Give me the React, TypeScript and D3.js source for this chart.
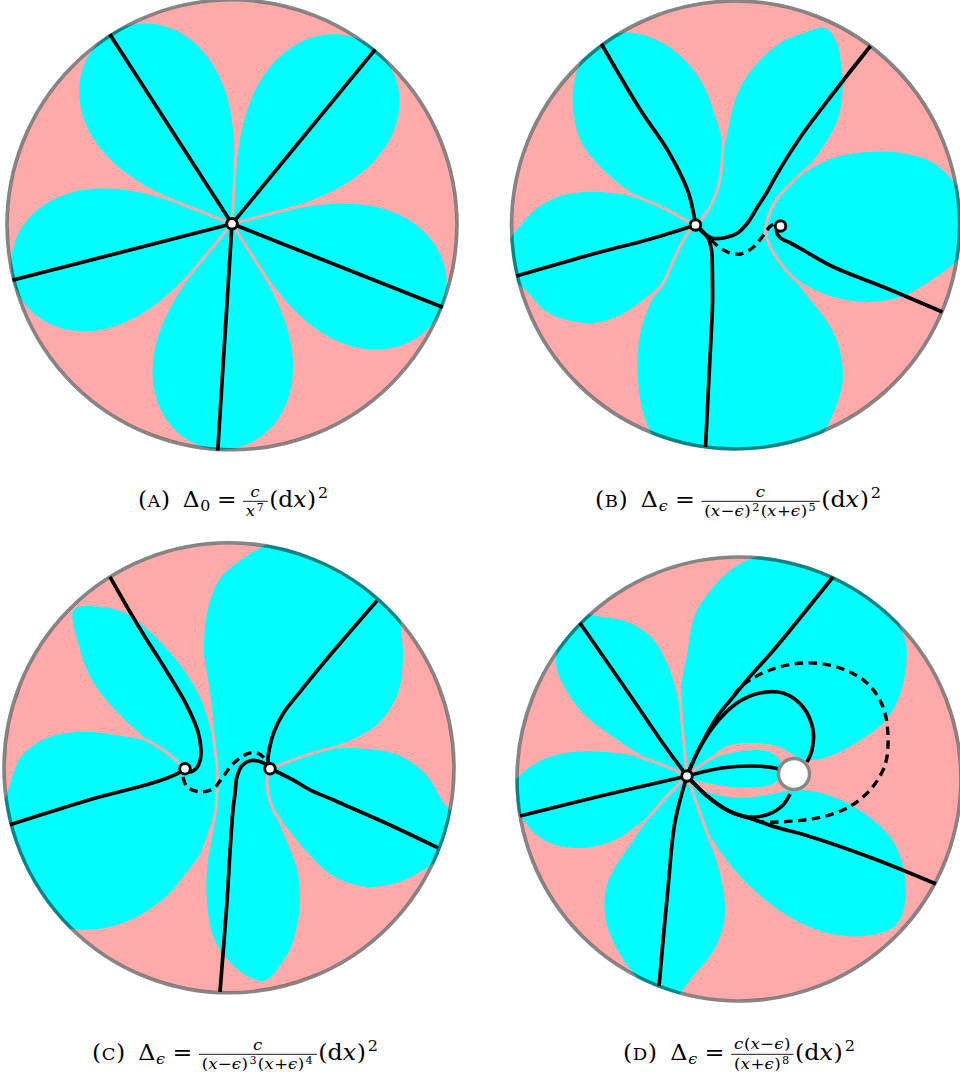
import React from "react";
import * as d3 from "d3";

type Pt = [number, number];

const PINK = "#ffaaaa";
const CYAN = "#00ffff";
const RING = "rgba(0,0,0,0.48)";
const EPS = "\u03F5";

/* ---------------- layout (pixels) ---------------- */
const LAYOUT = {
  cx: [232, 735.5, 229, 739],
  cy: [224.8, 225, 767.8, 779],
  r: [225, 224, 225, 222],
  capCx: [234, 739, 236, 740],
  capBase: [507, 507, 1060, 1060],
  capWidth: [192, 288, 288, 234],
};

/* ---------------- data (disk units, origin = disk centre) ---------------- */
// Panel A: five critical directions of c/x^7 (degrees, screen orientation)
const A_DIRECTIONS = [-122.8, -50.6, 21.6, 93.6, 165.6];
const A_PETAL_REACH = 226;
const A_POLES: Pt[] = [[0, -1]];

// Panel B
const B_POLES: Pt[] = [[-40, 0], [45, 1]];
const B_PETAL_LEFT: Pt[] = [[-40,0],[-52,-6],[-68,-15],[-95,-27],[-125,-32],[-150,-33],[-175,-29],[-198,-17],[-213,-2],[-228,20],[-225,50],[-208,67],[-190,86],[-168,95],[-142,98],[-115,90],[-90,73],[-74,58],[-62,35],[-52,15],[-47,7],[-40,0]];
const B_PETAL_UPLEFT: Pt[] = [[-40,0],[-52,-6],[-68,-15],[-95,-27],[-112,-38],[-135,-58],[-155,-85],[-163,-125],[-157,-158],[-142,-182],[-115,-192],[-92,-190],[-62,-175],[-35,-145],[-19,-105],[-13,-80],[-15,-48],[-22,-25],[-33,-7],[-40,0]];
const B_PETAL_MIDDLE: Pt[] = [[-40,0],[-33,-7],[-22,-25],[-15,-48],[-13,-72],[-8,-92],[-4,-112],[5,-138],[22,-162],[45,-182],[68,-192],[90,-197],[101,-183],[106,-158],[107,-132],[102,-105],[90,-82],[72,-57],[55,-41],[40,-24],[32,-6],[30,7],[35,22],[45,38],[55,50],[76,76],[95,102],[105,128],[107,158],[99,185],[86,210],[50,240],[-40,240],[-80,214],[-93,185],[-98,142],[-95,108],[-84,76],[-72,58],[-62,35],[-52,15],[-47,7],[-40,0]];
const B_PETAL_RIGHT: Pt[] = [[32,-6],[40,-24],[55,-41],[75,-56],[98,-67],[132,-73],[165,-72],[198,-62],[222,-38],[236,0],[224,32],[196,55],[165,72],[132,77],[98,72],[70,60],[55,50],[45,38],[35,22],[30,7]];
const B_GAPS: Pt[][] = [
  [[-40,0],[-33,-7],[-22,-25],[-15,-48],[-13,-72],[-12,-86]],
  [[-40,0],[-52,-6],[-68,-15],[-95,-27],[-110,-32]],
  [[-40,0],[-47,7],[-52,15],[-62,35],[-72,58],[-80,68]],
  [[80,-63],[72,-57],[55,-41],[40,-24],[32,-6],[30,7],[35,22],[45,38],[55,50],[63,57]],
];
const B_LINES: Pt[][] = [
  [[-40,0],[-42,-12],[-48,-35],[-68,-75],[-95,-115],[-134,-181]],
  [[-40,0],[-85,14],[-135,27],[-219,51]],
  [[-40,0],[-33,6],[-27,14],[-24,25],[-23,55],[-23,80],[-26,142],[-30,222]],
  [[-40,0],[-33,7],[-24,13],[-12,13],[2,8],[12,-2],[22,-18],[31,-32],[41,-50],[65,-88],[98,-132],[135,-179]],
  [[45,1],[41,6],[45,13],[55,18],[71,27],[98,42],[148,62],[207,87]],
];
const B_DASHED: Pt[][] = [[[-24,15],[-19,20],[-8,27],[5,29],[18,22],[28,10],[34,2],[39,-2]]];

// Panel C
const C_POLES: Pt[] = [[-44, 1], [41, 1]];
const C_PETAL_WEST: Pt[] = [[-44,1],[-49,-4],[-59,-13],[-79,-26],[-92,-37],[-112,-56],[-136,-86],[-150,-122],[-155,-158],[-129,-161],[-102,-154],[-79,-136],[-56,-112],[-39,-89],[-27,-66],[-20,-45],[-15,-25],[-12,0],[-12,20],[-14,41],[-22,68],[-30,88],[-42,104],[-62,128],[-96,151],[-129,161],[-165,160],[-200,145],[-232,70],[-220,20],[-210,-8],[-196,-22],[-176,-32],[-142,-36],[-109,-32],[-90,-29],[-79,-26],[-59,-13],[-49,-4],[-44,1]];
const C_PETAL_EAST: Pt[] = [[41,1],[54,-4],[81,-14],[104,-21],[125,-29],[148,-43],[168,-72],[174,-109],[172,-139],[168,-175],[100,-240],[44,-226],[11,-207],[-9,-189],[-21,-159],[-25,-126],[-24,-99],[-19,-66],[-16,-34],[-12,-1],[-12,20],[-13,41],[-17,68],[-22,101],[-22,134],[-16,168],[-2,191],[18,208],[36,213],[51,198],[64,174],[71,134],[68,101],[58,74],[46,45],[41,33],[38,13],[41,1]];
const C_PETAL_RIGHT: Pt[] = [[41,1],[54,-4],[81,-14],[104,-19],[138,-19],[171,-12],[198,8],[214,34],[240,70],[201,98],[171,114],[138,119],[104,108],[78,84],[58,60],[46,45],[41,33],[38,13],[41,1]];
const C_GAPS: Pt[][] = [
  [[-26,-110],[-22,-86],[-19,-66],[-16,-34],[-12,-1],[-12,20],[-13,41],[-17,62],[-20,78]],
  [[-44,1],[-49,-4],[-59,-13],[-79,-26],[-90,-31]],
  [[41,1],[54,-4],[81,-14],[104,-20]],
  [[41,1],[38,13],[41,33],[46,45],[52,53]],
];
const C_LINES: Pt[][] = [
  [[-119,-191],[-89,-139],[-62,-96],[-42,-62],[-31,-36],[-28,-18],[-29,-7],[-33,1],[-39,4],[-44,1]],
  [[-44,1],[-52,6],[-79,16],[-129,29],[-219,57]],
  [[41,1],[34,-5],[21,-7],[13,-2],[8,9],[6,26],[4,42],[1,84],[-2,134],[-9,224]],
  [[41,1],[39,-8],[41,-22],[45,-36],[54,-54],[71,-76],[104,-116],[148,-167]],
  [[41,1],[52,6],[64,12],[81,22],[104,32],[154,54],[209,80]],
];
const C_DASHED: Pt[][] = [[[-46,9],[-42,19],[-29,24],[-16,21],[-6,9],[4,-4],[18,-14],[28,-15],[36,-9],[41,1]]];

// Panel D
const D_POLES: Pt[] = [[-52, -3]];
const D_ZEROS: Pt[] = [[55, -5]];
const D_PETALS: Pt[][] = [
  // top
  [[-52,-3],[-54,-25],[-57,-55],[-59,-85],[-56,-105],[-52,-124],[-44,-164],[-24,-194],[-1,-214],[33,-225],[99,-205],[145,-178],[166,-140],[167,-112],[160,-82],[146,-58],[120,-38],[94,-24],[74,-19],[60,-21],[50,-27],[38,-33],[14,-36],[-12,-33],[-29,-21],[-40,-13],[-52,-3]],
  // small (towards the zero)
  [[-52,-3],[-40,-12],[-29,-19],[-12,-25],[14,-29],[31,-27],[39,-21],[43,-10],[40,0],[34,5],[21,8],[-6,8],[-32,4],[-44,1],[-52,-3]],
  // lower right
  [[-52,-3],[-44,7],[-29,14],[-10,18],[8,19],[38,14],[54,11],[78,13],[104,22],[132,39],[154,62],[165,92],[166,124],[157,146],[133,156],[99,156],[66,146],[33,126],[0,96],[-21,69],[-30,55],[-39,34],[-46,14],[-52,-3]],
  // bottom
  [[-52,-3],[-46,14],[-39,34],[-31,58],[-20,90],[-14,136],[-24,169],[-45,196],[-70,222],[-100,200],[-122,170],[-134,136],[-131,103],[-107,63],[-90,39],[-78,24],[-64,9],[-52,-3]],
  // left
  [[-52,-3],[-67,-10],[-87,-18],[-110,-24],[-134,-27],[-167,-27],[-201,-17],[-228,10],[-214,43],[-191,63],[-157,69],[-124,61],[-100,45],[-90,37],[-78,24],[-64,9],[-52,-3]],
  // top left
  [[-52,-3],[-54,-25],[-57,-55],[-61,-81],[-71,-114],[-87,-141],[-111,-157],[-137,-162],[-168,-165],[-183,-117],[-174,-91],[-154,-64],[-124,-41],[-100,-25],[-87,-18],[-67,-10],[-52,-3]],
];
const D_GAPS: Pt[][] = [
  [[-52,-3],[-54,-25],[-57,-55],[-59,-85],[-60,-98]],
  [[-52,-3],[-67,-10],[-87,-18],[-100,-22]],
  [[-52,-3],[-64,9],[-78,24],[-90,38]],
  [[-52,-3],[-46,14],[-39,34],[-31,56],[-27,66]],
  [[-52,-3],[-40,-12.5],[-29,-20],[-16,-26]],
  [[-52,-3],[-44,4],[-32,9],[-20,12]],
];
const D_LINES: Pt[][] = [
  [[-52,-3],[-77,-37],[-107,-81],[-159,-156]],
  [[-52,-3],[-134,16],[-219,37]],
  [[-52,-3],[-64,43],[-71,109],[-80,207]],
  [[-52,-3],[-39,-32],[-22,-62],[-6,-82],[14,-106],[33,-127],[94,-202]],
  [[-52,-3],[-42,-26],[-26,-52],[-2,-76],[21,-86],[44,-86],[64,-72],[74,-49],[73,-29],[68,-17]],
  [[-52,-3],[-32,17],[-10,32],[10,38],[30,35],[44,26],[51,15]],
  [[-52,-3],[-32,17],[-10,32],[13,40],[40,49],[66,56],[133,79],[197,105]],
  [[-52,-3],[-17,-11],[13,-13],[36,-11],[41,-9]],
];
const D_DASHED: Pt[][] = [[[-5,-84],[5,-95],[31,-109],[64,-116],[98,-112],[128,-96],[144,-72],[149,-42],[146,-14],[132,10],[110,28],[83,38],[55,42],[24,43],[14,41]]];

// Captions
const CAPTION_LABELS = ["A", "B", "C", "D"];
const CAPTION_SUBS = ["0", EPS, EPS, EPS];
const CAPTION_NUMS: string[][] = [["c"], ["c"], ["c"], ["c", "(", "x", "\u2212", EPS, ")"]];
const CAPTION_DENS: string[][] = [
  ["x", "^7"],
  ["(", "x", "\u2212", EPS, ")", "^2", "(", "x", "+", EPS, ")", "^5"],
  ["(", "x", "\u2212", EPS, ")", "^3", "(", "x", "+", EPS, ")", "^4"],
  ["(", "x", "+", EPS, ")", "^8"],
];
const CAPTION_TAIL = ["(", "d", "x", ")", "^2"];

/* ---------------- panel specs ---------------- */
type Spec = {
  dense: Pt[][]; petals: Pt[][]; loops: Pt[][]; gaps: Pt[][];
  lines: Pt[][]; dashed: Pt[][]; poles: Pt[]; zeros: Pt[];
};
const rad = (d: number) => (d * Math.PI) / 180;
const polar = (o: Pt, ang: number, r: number): Pt => [o[0] + r * Math.cos(rad(ang)), o[1] + r * Math.sin(rad(ang))];
const half = 180 / A_DIRECTIONS.length;
const aPetal = (dir: number): Pt[] =>
  d3.range(0, 2 * half * 2 + 1).map((k) => {
    const psi = -half + k / 2;
    const c = Math.max(0, Math.cos(rad((psi * 90) / half)));
    return polar(A_POLES[0], dir + psi, A_PETAL_REACH * Math.pow(c, 0.4));
  });

const SPECS: Spec[] = [
  {
    dense: A_DIRECTIONS.map(aPetal), petals: [], loops: [],
    gaps: A_DIRECTIONS.map((d) => [A_POLES[0], polar(A_POLES[0], d + half, 150)]),
    lines: A_DIRECTIONS.map((d) => [A_POLES[0], polar(A_POLES[0], d, 228)]),
    dashed: [], poles: A_POLES, zeros: [],
  },
  { dense: [], petals: [B_PETAL_LEFT, B_PETAL_UPLEFT, B_PETAL_MIDDLE], loops: [B_PETAL_RIGHT], gaps: B_GAPS, lines: B_LINES, dashed: B_DASHED, poles: B_POLES, zeros: [] },
  { dense: [], petals: [C_PETAL_WEST, C_PETAL_EAST, C_PETAL_RIGHT], loops: [], gaps: C_GAPS, lines: C_LINES, dashed: C_DASHED, poles: C_POLES, zeros: [] },
  { dense: [], petals: D_PETALS, loops: [], gaps: D_GAPS, lines: D_LINES, dashed: D_DASHED, poles: D_POLES, zeros: D_ZEROS },
];

function Panel({ spec, i }: { spec: Spec; i: number }) {
  const cx = LAYOUT.cx[i], cy = LAYOUT.cy[i], R = LAYOUT.r[i];
  const x = d3.scaleLinear().domain([-R, R]).range([cx - R, cx + R]);
  const y = d3.scaleLinear().domain([-R, R]).range([cy - R, cy + R]);
  const smooth = d3.line<Pt>().x((d) => x(d[0])).y((d) => y(d[1])).curve(d3.curveCatmullRom.alpha(0.5));
  const loop = d3.line<Pt>().x((d) => x(d[0])).y((d) => y(d[1])).curve(d3.curveCatmullRomClosed.alpha(0.5));
  const straight = d3.line<Pt>().x((d) => x(d[0])).y((d) => y(d[1]));
  const clip = `disk-${i}`;
  return (
    <g>
      <defs>
        <clipPath id={clip}><circle cx={cx} cy={cy} r={R + 1.4} /></clipPath>
      </defs>
      <circle cx={cx} cy={cy} r={R - 1.4} fill={PINK} />
      <g clipPath={`url(#${clip})`}>
        {spec.dense.map((p, k) => <path key={"d" + k} d={straight(p) + "Z"} fill={CYAN} />)}
        {spec.petals.map((p, k) => <path key={"p" + k} d={smooth(p) + "Z"} fill={CYAN} />)}
        {spec.loops.map((p, k) => <path key={"l" + k} d={loop(p) || ""} fill={CYAN} />)}
        {spec.gaps.map((p, k) => (
          <path key={"g" + k} d={(p.length > 2 ? smooth(p) : straight(p)) || ""} fill="none" stroke={PINK} strokeWidth={2.9} strokeLinecap="round" />
        ))}
        {spec.lines.map((p, k) => (
          <path key={"s" + k} d={(p.length > 2 ? smooth(p) : straight(p)) || ""} fill="none" stroke="#000" strokeWidth={3.7} strokeLinejoin="round" />
        ))}
        {spec.dashed.map((p, k) => (
          <path key={"q" + k} d={smooth(p) || ""} fill="none" stroke="#000" strokeWidth={3.4} strokeDasharray="8.5 5.5" />
        ))}
      </g>
      <circle cx={cx} cy={cy} r={R} fill="none" stroke={RING} strokeWidth={3.6} />
      {spec.zeros.map((p, k) => (
        <circle key={"z" + k} cx={x(p[0])} cy={y(p[1])} r={15.5} fill="#fff" stroke="#888" strokeWidth={3.4} />
      ))}
      {spec.poles.map((p, k) => (
        <circle key={"m" + k} cx={x(p[0])} cy={y(p[1])} r={5.3} fill="#fff" stroke="#000" strokeWidth={2.9} />
      ))}
    </g>
  );
}

/* ---------------- captions ---------------- */
const FONT = "'DejaVu Serif'";
const ITALIC = new Set(["x", "c", EPS]);
let ctx: CanvasRenderingContext2D | null = null;
function textW(t: string, size: number, it: boolean) {
  if (!ctx) ctx = document.createElement("canvas").getContext("2d");
  if (!ctx) return t.length * size * 0.55;
  ctx.font = `${it ? "italic " : ""}${size}px ${FONT}`;
  return ctx.measureText(t).width;
}
type Item = { t: string; x: number; y: number; size: number; it: boolean };
function run(tokens: string[], size: number, x0: number, y0: number, supShift = 0.42) {
  let xx = x0;
  const items: Item[] = [];
  for (const tok of tokens) {
    let t = tok, sz = size, dy = 0, after = 0;
    if (tok[0] === "^" && tok.length > 1) { t = tok.slice(1); sz = size * 0.68; dy = -size * supShift; xx += size * 0.08; after = size * 0.08; }
    else if (tok[0] === "_" && tok.length > 1) { t = tok.slice(1); sz = size * 0.68; dy = size * 0.2; xx += size * 0.03; }
    const it = ITALIC.has(t);
    items.push({ t, x: xx, y: y0 + dy, size: sz, it });
    xx += textW(t, sz, it) + (it ? size * 0.03 : 0) + after;
  }
  return { items, w: xx - x0 };
}

function Caption({ i }: { i: number }) {
  const F = 22;
  const items: Item[] = [];
  let xx = 0;
  const push = (r: { items: Item[]; w: number }) => { items.push(...r.items); xx += r.w; };
  push(run(["("], F, xx, 0));
  items.push({ t: CAPTION_LABELS[i], x: xx + 0.5, y: 0, size: F * 0.76, it: false });
  xx += textW(CAPTION_LABELS[i], F * 0.76, false) + 1;
  push(run([")"], F, xx, 0));
  xx += 0.55 * F;
  push(run(["\u0394", "_" + CAPTION_SUBS[i]], F, xx, 0));
  xx += 0.28 * F;
  push(run(["="], F, xx, 0));
  xx += 0.28 * F;
  const s = 0.7 * F;
  const bar = -0.26 * F;
  const numHasParen = CAPTION_NUMS[i].includes("(");
  const num = run(CAPTION_NUMS[i], s, 0, bar - (numHasParen ? 5.2 : 4.4));
  const den = run(CAPTION_DENS[i], s, 0, bar + 14.6, 0.34);
  const pad = 0.12 * F;
  const fw = Math.max(num.w, den.w) + 2 * pad;
  const fx = xx;
  num.items.forEach((it) => items.push({ ...it, x: it.x + fx + (fw - num.w) / 2 }));
  den.items.forEach((it) => items.push({ ...it, x: it.x + fx + (fw - den.w) / 2 }));
  xx += fw + 0.06 * F;
  push(run(CAPTION_TAIL, F, xx, 0));
  const W = xx;
  const sc = LAYOUT.capWidth[i] / W;
  return (
    <g transform={`translate(${LAYOUT.capCx[i] - LAYOUT.capWidth[i] / 2},${LAYOUT.capBase[i]}) scale(${sc},1)`}>
      {items.map((it, k) => (
        <text key={k} x={it.x} y={it.y} fontSize={it.size} fontStyle={it.it ? "italic" : "normal"} fontFamily={FONT} fill="#000">
          {it.t}
        </text>
      ))}
      <rect x={fx} y={bar - 0.45} width={fw} height={0.9} fill="#000" />
    </g>
  );
}

export default function App() {
  return (
    <svg width={960} height={1078} viewBox="0 0 960 1078" style={{ position: "absolute", left: 0, top: 0, background: "#fff" }}>
      {SPECS.map((s, i) => <Panel key={i} spec={s} i={i} />)}
      {SPECS.map((_, i) => <Caption key={"c" + i} i={i} />)}
    </svg>
  );
}
